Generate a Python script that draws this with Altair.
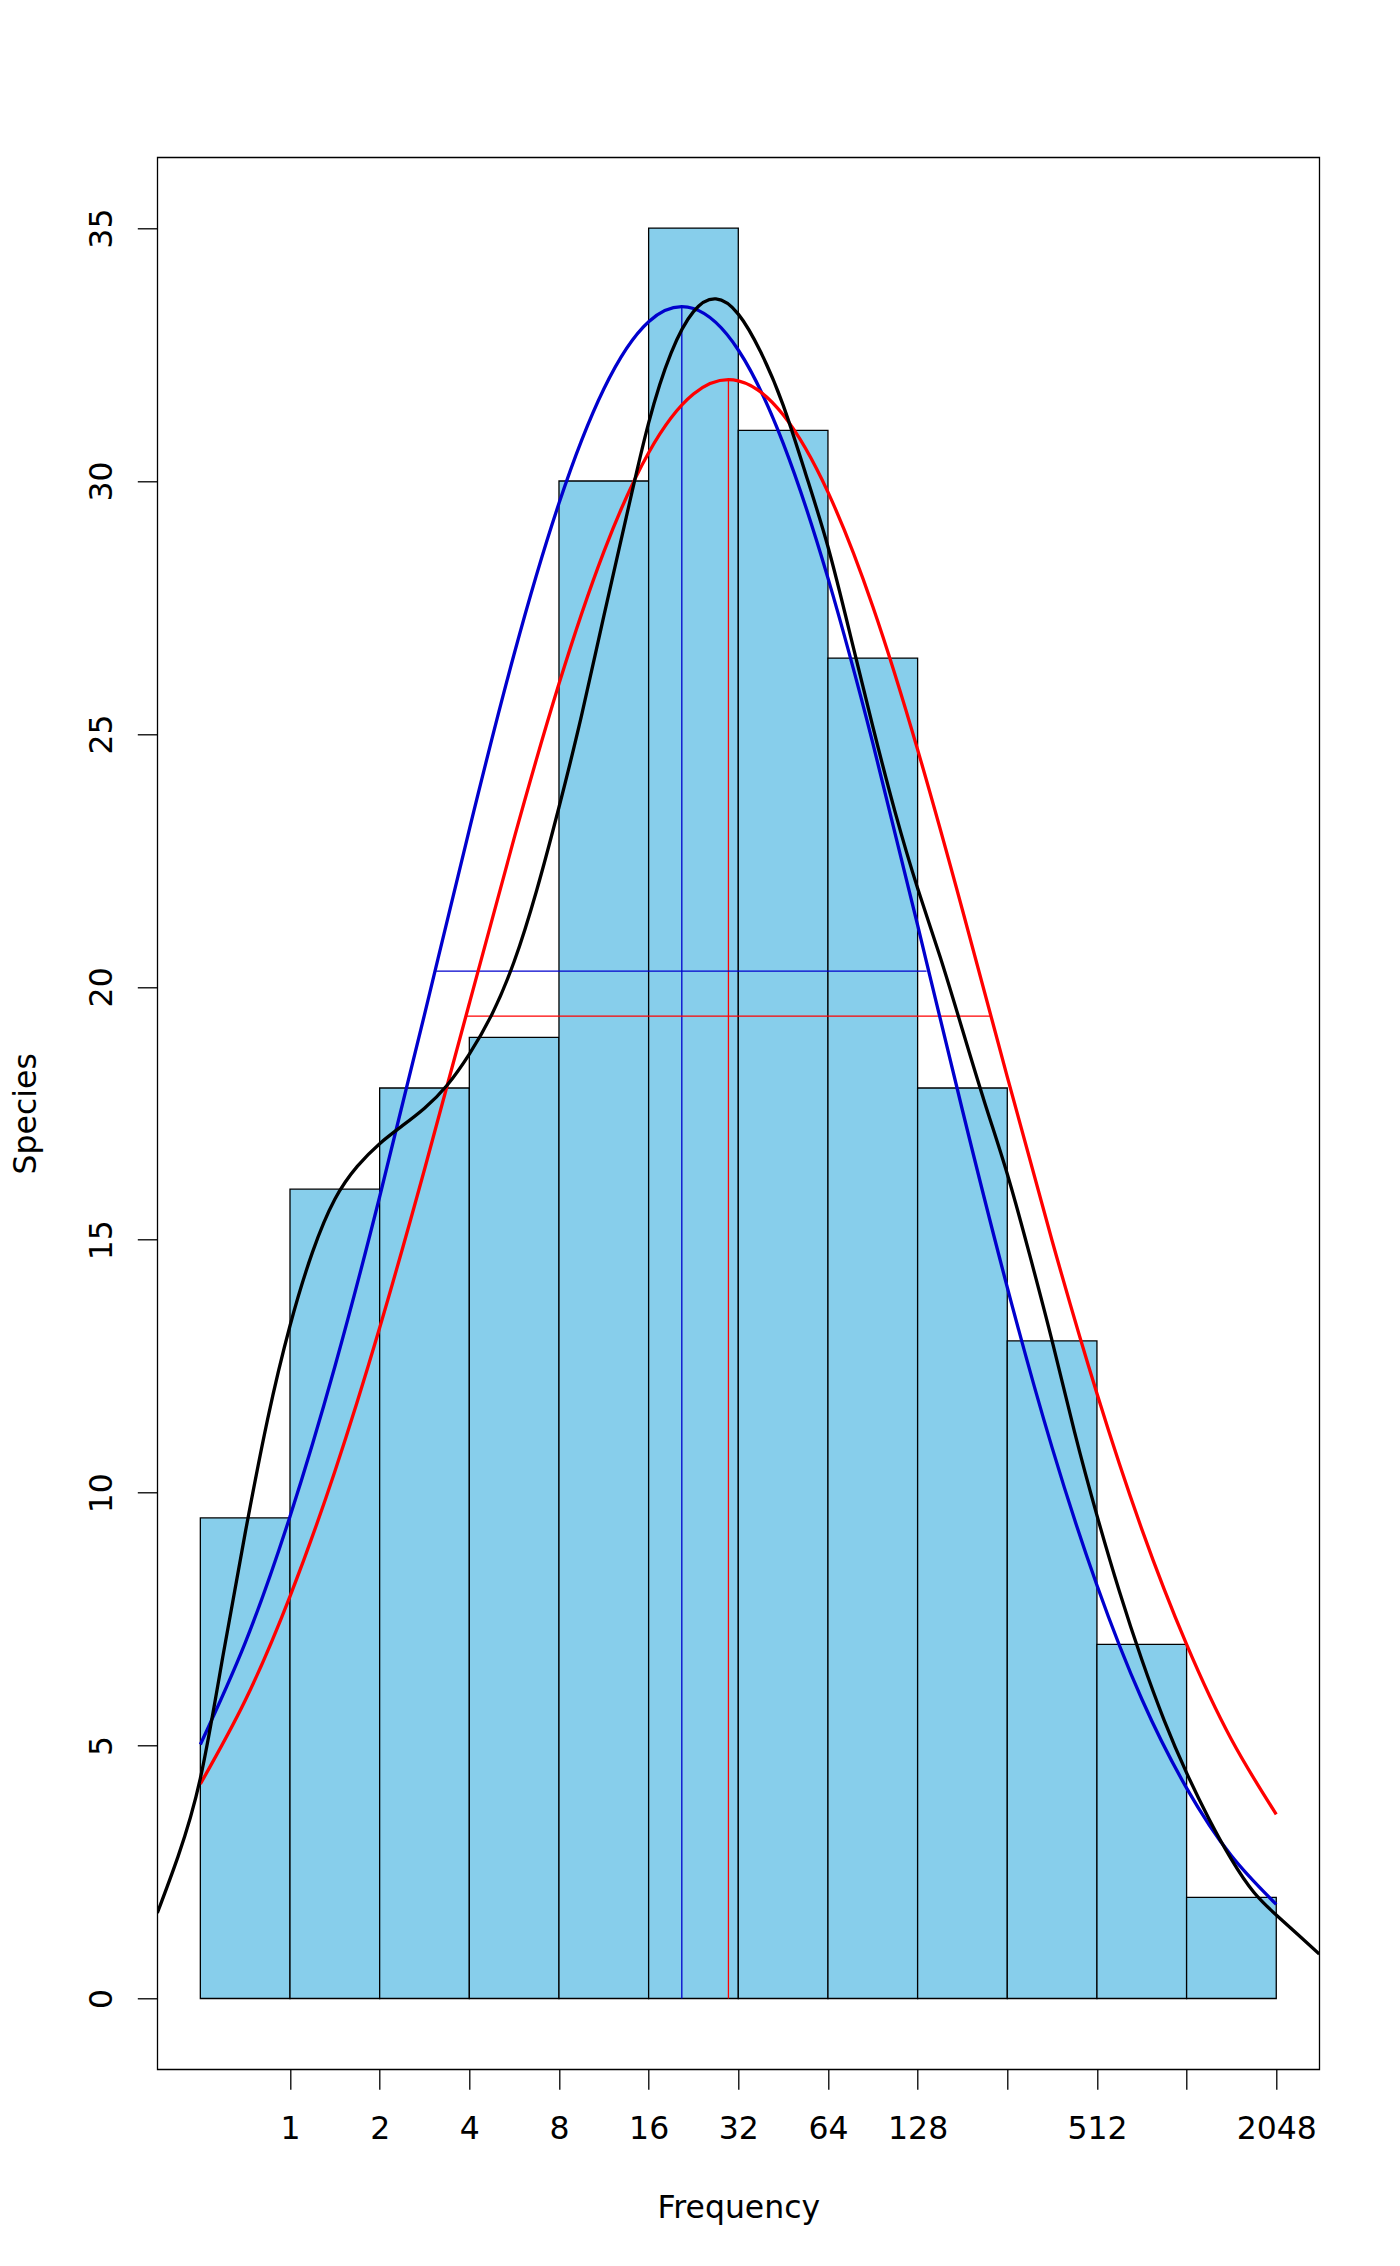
import altair as alt
import pandas as pd

# ---- data (x in log2 units of Frequency) ----
bin_left = [-1, 0, 1, 2, 3, 4, 5, 6, 7, 8, 9, 10]
bin_right = [0, 1, 2, 3, 4, 5, 6, 7, 8, 9, 10, 11]
species = [9.5, 16, 18, 19, 30, 35, 31, 26.5, 18, 13, 7, 2]

x_tick_values = [0, 1, 2, 3, 4, 5, 6, 7, 8, 9, 10, 11]
x_tick_labels = ["1", "2", "4", "8", "16", "32", "64", "128", "", "512", "", "2048"]
y_tick_values = [0, 5, 10, 15, 20, 25, 30, 35]

curve_x = [-1, -0.5, 0, 0.5, 1, 1.5, 2, 2.5, 3, 3.5, 4, 4.5, 5, 5.5, 6, 6.5, 7,
           7.5, 8, 8.5, 9, 9.5, 10, 10.5, 11]
blue_y = [5.02, 7.03, 9.53, 12.49, 15.85, 19.45, 23.11, 26.58, 29.56, 31.82, 33.15,
          33.41, 32.59, 30.75, 28.08, 24.82, 21.22, 17.56, 14.06, 10.89, 8.17, 5.92, 4.16,
          2.82, 1.86]
red_y = [4.24, 5.89, 7.95, 10.42, 13.26, 16.39, 19.67, 22.94, 25.99, 28.6, 30.56, 31.72,
         31.98, 31.31, 29.78, 27.52, 24.69, 21.52, 18.22, 14.98, 11.96, 9.28, 7.0,
         5.12, 3.64]

black_x = [-1.48, -1.25, -1.0, -0.75, -0.5, -0.25, 0.0, 0.25, 0.5, 0.75, 1.0, 1.25, 1.5,
           1.75, 2.0, 2.25, 2.5, 2.75, 3.0, 3.25, 3.5, 3.75, 4.0, 4.25, 4.5, 4.75, 5.0,
           5.25, 5.5, 5.75, 6.0, 6.25, 6.5, 6.75, 7.0, 7.25, 7.5, 7.75, 8.0, 8.25, 8.5,
           8.75, 9.0, 9.25, 9.5, 9.75, 10.0, 10.25, 10.5, 10.75, 11.0, 11.25, 11.48]
black_y = [1.69, 2.8, 4.35, 6.75, 9.2, 11.45, 13.3, 14.75, 15.8, 16.45, 16.9, 17.25, 17.6,
           18.05, 18.67, 19.45, 20.5, 21.9, 23.55, 25.35, 27.33, 29.28, 31.15, 32.53, 33.35,
           33.6, 33.3, 32.55, 31.5, 30.15, 28.7, 26.95, 25.15, 23.45, 21.95, 20.6, 19.15,
           17.7, 16.3, 14.7, 13.0, 11.2, 9.55, 8.05, 6.7, 5.5, 4.46, 3.55, 2.75, 2.1,
           1.65, 1.25, 0.88]

# vertical (mean) lines and horizontal (+-1 sd) lines
vline_x = [4.37, 4.89]
vline_top = [33.45, 32.0]
hline_y = [20.31, 19.42]
hline_from = [1.63, 1.97]
hline_to = [7.10, 7.81]
line_colors = ["#0000CD", "#FF0000"]

# ---- layout ----
W, H = 1162, 1912
FONT = "DejaVu Sans"
FS = 31.5

label_expr = "[" + ",".join("'%s'" % s for s in x_tick_labels) + "][datum.value]"

x_scale = alt.Scale(domain=[-1.48, 11.48], nice=False, zero=False)
y_scale = alt.Scale(domain=[-1.4, 36.4], nice=False, zero=False)

x_axis = alt.Axis(values=x_tick_values, labelExpr=label_expr, title="Frequency",
                  grid=False, domain=False, ticks=True, tickColor="black", tickWidth=1.3,
                  tickSize=20, labelFont=FONT, labelFontSize=FS, labelColor="black",
                  labelBaseline="alphabetic", labelAlign="center", labelPadding=49,
                  labelAngle=0, labelFlush=False, labelOverlap=False,
                  titleFont=FONT, titleFontSize=FS, titleFontWeight="normal",
                  titleColor="black", titleX=W / 2, titleY=148,
                  titleBaseline="alphabetic", titleAlign="center")
y_axis = alt.Axis(values=y_tick_values, title="Species", grid=False, domain=False,
                  tickColor="black", tickWidth=1.3, tickSize=20, labelFont=FONT,
                  labelFontSize=FS, labelColor="black", labelAngle=270,
                  labelAlign="center", labelBaseline="alphabetic", labelPadding=25.6,
                  labelFlush=False, labelOverlap=False,
                  titleFont=FONT, titleFontSize=FS, titleFontWeight="normal",
                  titleColor="black", titleAngle=270, titleX=-122, titleY=H / 2,
                  titleBaseline="alphabetic", titleAlign="center")


def X(field):
    return alt.X(field, type="quantitative", scale=x_scale, axis=x_axis)


def Y(field):
    return alt.Y(field, type="quantitative", scale=y_scale, axis=y_axis)


bars_df = pd.DataFrame({"lo": bin_left, "hi": bin_right, "n": species,
                        "z": [0] * len(species)})
bars = alt.Chart(bars_df).mark_rect(fill="#87CEEB", stroke="black", strokeWidth=1.3).encode(
    x=X("lo"), x2="hi", y=Y("z"), y2="n")

vdf = pd.DataFrame({"x": vline_x, "top": vline_top, "z": [0, 0], "c": line_colors})
vlines = alt.Chart(vdf).mark_rule(strokeWidth=1.3).encode(
    x=X("x"), y=Y("z"), y2="top", color=alt.Color("c:N", scale=None))

hdf = pd.DataFrame({"a": hline_from, "b": hline_to, "y": hline_y, "c": line_colors})
hlines = alt.Chart(hdf).mark_rule(strokeWidth=1.3).encode(
    x=X("a"), x2="b", y=Y("y"), color=alt.Color("c:N", scale=None))

blue = alt.Chart(pd.DataFrame({"x": curve_x, "y": blue_y})).mark_line(
    color="#0000CD", strokeWidth=3.3, interpolate="natural", clip=True).encode(
    x=X("x"), y=Y("y"))
red = alt.Chart(pd.DataFrame({"x": curve_x, "y": red_y})).mark_line(
    color="#FF0000", strokeWidth=3.3, interpolate="natural", clip=True).encode(
    x=X("x"), y=Y("y"))
black = alt.Chart(pd.DataFrame({"x": black_x, "y": black_y})).mark_line(
    color="black", strokeWidth=3.3, interpolate="natural", clip=True).encode(
    x=X("x"), y=Y("y"))

chart = alt.layer(bars, vlines, hlines, blue, red, black).properties(
    width=W, height=H,
    autosize=alt.AutoSizeParams(type="none"),
    padding={"left": 149.3, "top": 149.3, "right": 70, "bottom": 190},
    background="white",
).configure_view(stroke="black", strokeWidth=1.3)

chart.save("out.html", embed_options={"renderer": "svg", "actions": False})
